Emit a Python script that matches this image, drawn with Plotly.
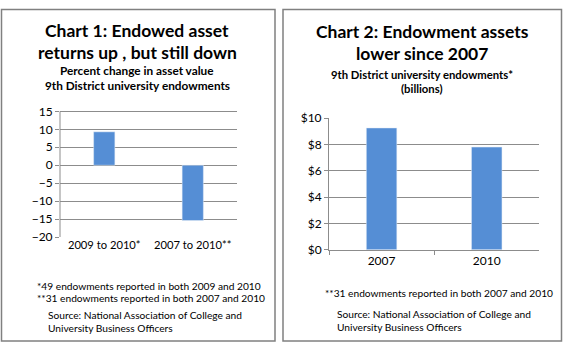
import plotly.graph_objects as go

W, H = 563, 350

# Data
c1_categories = ["2009 to 2010*", "2007 to 2010**"]
c1_values = [9.3, -15.4]
c1_ticks = [15, 10, 5, 0, -5, -10, -15, -20]

c2_categories = ["2007", "2010"]
c2_values = [9.25, 7.8]
c2_ticks = [0, 2, 4, 6, 8, 10]
c2_ticklabels = ["$0", "$2", "$4", "$6", "$8", "$10"]

FONT = "Lato"
BAR = "#558ED5"
GRID = "#8c8c8c"


def px(x):
    return x / W


def py(y):
    return 1 - y / H


fig = go.Figure()
fig.add_trace(go.Bar(x=c1_categories, y=c1_values, marker_color=BAR, width=0.24,
                     xaxis="x", yaxis="y", showlegend=False))
fig.add_trace(go.Bar(x=c2_categories, y=c2_values, marker_color=BAR, width=0.29,
                     xaxis="x2", yaxis="y2", showlegend=False))

TF = dict(family=FONT, size=12, color="#000")
TF1 = dict(family=FONT, size=11.2, color="#000")

c1_top, c1_bottom = max(c1_ticks), min(c1_ticks)
ppu = (239.3 - 108) / float(c1_top - c1_bottom)
top_val = c1_top + 0.4
fig.update_layout(
    width=W, height=H, margin=dict(l=0, r=0, t=0, b=0),
    paper_bgcolor="white", plot_bgcolor="white",
    font=dict(family=FONT, color="#000"),
    xaxis=dict(domain=[px(60), px(237)], anchor="y", type="category",
               showgrid=False, showline=False, zeroline=False, tickfont=TF1),
    yaxis=dict(domain=[py(239.3), py(108 - (top_val - c1_top) * ppu)],
               range=[c1_bottom, top_val], autorange=False,
               anchor="x", tickmode="array", tickvals=c1_ticks,
               ticks="outside", ticklen=4, tickcolor=GRID,
               ticklabeloverflow="allow",
               showgrid=True, gridcolor=GRID, gridwidth=1,
               zeroline=True, zerolinecolor=GRID, zerolinewidth=1,
               showline=False, tickfont=TF),
    xaxis2=dict(domain=[px(329), px(539.3)], anchor="y2", type="category",
                ticks="outside", tickson="boundaries", ticklen=4, tickcolor=GRID,
                showgrid=False, showline=True, linecolor=GRID, linewidth=1,
                tickfont=TF),
    yaxis2=dict(domain=[py(252.7), py(115)], range=[0, 10],
                anchor="x2", tickmode="array",
                tickvals=c2_ticks, ticktext=c2_ticklabels, ticks="outside",
                ticklen=4, tickcolor=GRID, showgrid=True, gridcolor=GRID,
                zeroline=False, showline=True, linecolor=GRID, linewidth=1,
                tickfont=TF),
)

# chart 1 vertical axis line from the bottom tick to the top tick
fig.add_shape(type="line", xref="x domain", yref="y", x0=0, x1=0,
              y0=c1_bottom, y1=c1_top, line=dict(color=GRID, width=1))

# panel borders
fig.add_shape(type="rect", xref="paper", yref="paper", layer="below",
              x0=px(1.5), x1=px(275), y0=py(348), y1=py(1.5),
              line=dict(color="#808080", width=1.5), fillcolor="rgba(0,0,0,0)")
fig.add_shape(type="rect", xref="paper", yref="paper", layer="below",
              x0=px(283), x1=px(561.5), y0=py(348), y1=py(1.5),
              line=dict(color="#808080", width=1.5), fillcolor="rgba(0,0,0,0)")


def txt(x, y, s, size, bold=False, anchor="center"):
    fig.add_annotation(xref="paper", yref="paper", x=px(x), y=py(y),
                       xanchor=anchor, yanchor="middle", showarrow=False,
                       text=("<b>%s</b>" % s) if bold else s,
                       font=dict(family=FONT, size=size, color="#000"))


# Chart 1 titles
txt(137, 23, "Chart 1: Endowed asset", 17.5, True)
txt(137, 46, "returns up , but still down", 17.5, True)
txt(137, 65, "Percent change in asset value", 11.8, True)
txt(137, 81, "9th District university endowments", 11.8, True)
# Chart 1 notes
txt(35, 290, "*49 endowments reported in both 2009 and 2010", 10.2, anchor="left")
txt(35, 303, "**31 endowments reported in both 2007 and 2010", 10.2, anchor="left")
txt(46, 321, "Source: National Association of College and", 10.2, anchor="left")
txt(46, 334, "University Business Officers", 10.2, anchor="left")

# Chart 2 titles
txt(422, 25, "Chart 2: Endowment assets", 17.5, True)
txt(422, 48, "lower since 2007", 17.5, True)
txt(422, 69, "9th District university endowments*", 11.3, True)
txt(422, 84, "(billions)", 11.3, True)
# Chart 2 notes
txt(323, 298, "**31 endowments reported in both 2007 and 2010", 10.2, anchor="left")
txt(335, 320, "Source: National Association of College and", 10.2, anchor="left")
txt(335, 333, "University Business Officers", 10.2, anchor="left")

fig.write_html("out.html")
